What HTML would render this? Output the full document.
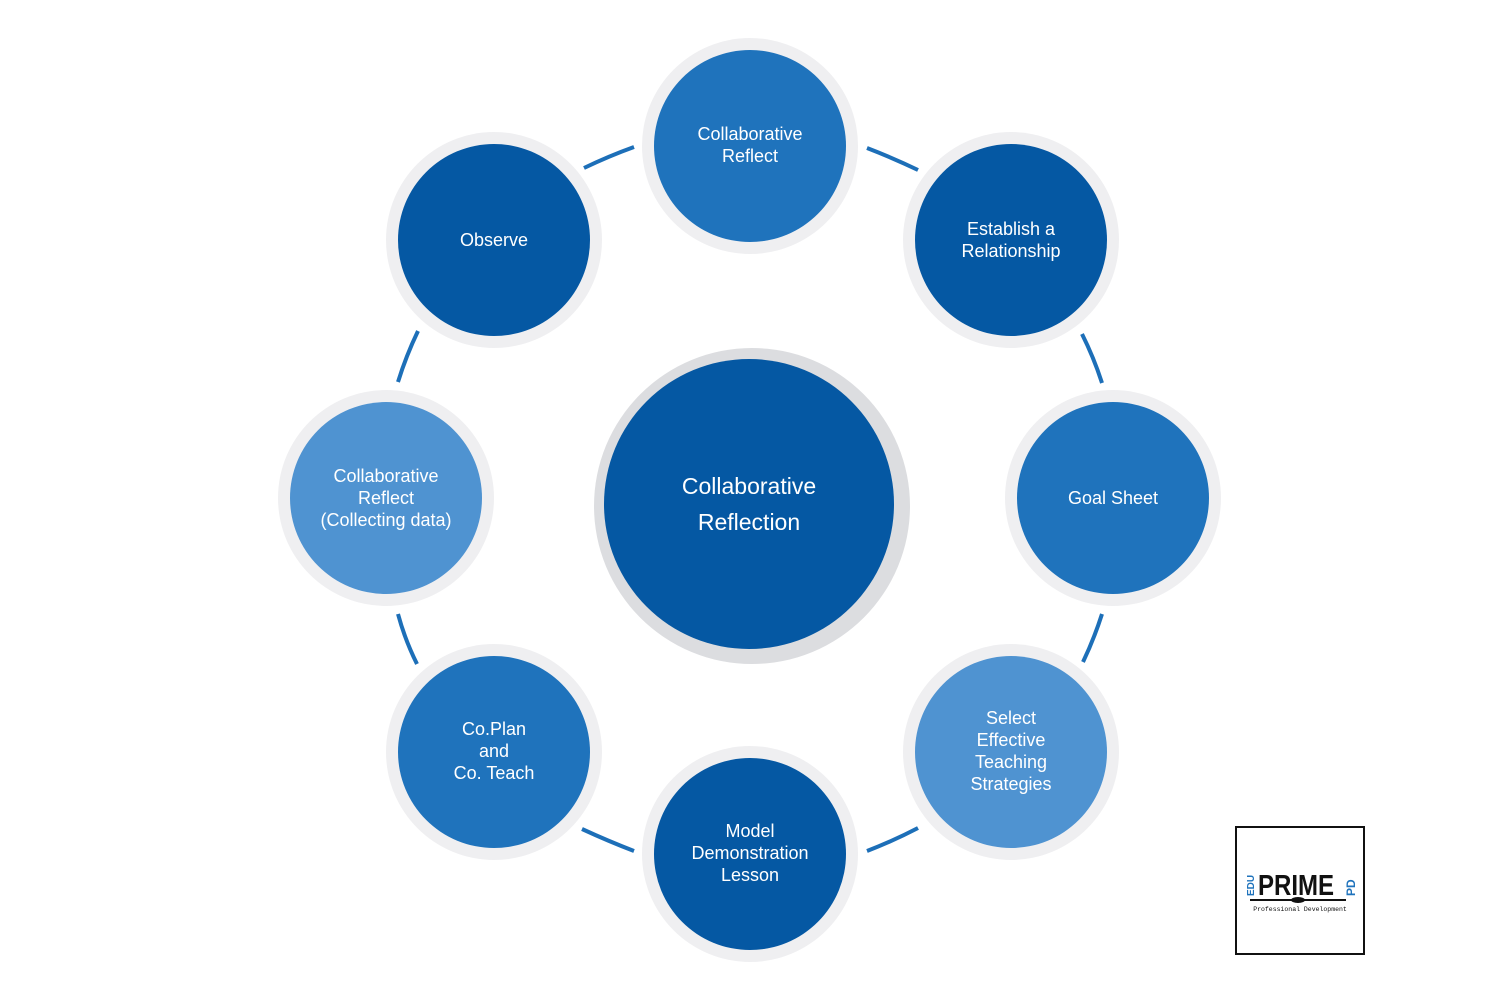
<!DOCTYPE html>
<html><head><style>
body{margin:0;width:1500px;height:1000px;background:#fff;overflow:hidden;font-family:"Liberation Sans",sans-serif}
</style></head><body>
<svg width="1500" height="1000" viewBox="0 0 1500 1000">
<g stroke="#1d6fb8" stroke-width="4" fill="none" stroke-linecap="butt">
<path d="M584 168 Q609 156 634 147"/>
<path d="M867 148 Q893 158 918 170"/>
<path d="M1082 334 Q1094 358 1102 383"/>
<path d="M1102 614 Q1094 639 1083 662"/>
<path d="M918 828 Q893 841 867 851"/>
<path d="M634 851 Q608 841 582 829"/>
<path d="M417 664 Q405 640 398 614"/>
<path d="M398 382 Q406 356 418 331"/>
</g>
<g fill="#efeff1">
<circle cx="752" cy="506" r="158" fill="#dcdde0"/>
<circle cx="750" cy="146" r="108"/><circle cx="494" cy="240" r="108"/><circle cx="1011" cy="240" r="108"/>
<circle cx="1113" cy="498" r="108"/><circle cx="1011" cy="752" r="108"/><circle cx="750" cy="854" r="108"/>
<circle cx="494" cy="752" r="108"/><circle cx="386" cy="498" r="108"/>
</g>
<circle cx="749" cy="504" r="145" fill="#0558a3"/>
<circle cx="750" cy="146" r="96" fill="#1f73bc"/>
<circle cx="494" cy="240" r="96" fill="#0558a3"/>
<circle cx="1011" cy="240" r="96" fill="#0558a3"/>
<circle cx="1113" cy="498" r="96" fill="#1f73bc"/>
<circle cx="1011" cy="752" r="96" fill="#4f93d1"/>
<circle cx="750" cy="854" r="96" fill="#0558a3"/>
<circle cx="494" cy="752" r="96" fill="#1f73bc"/>
<circle cx="386" cy="498" r="96" fill="#4f93d1"/>
<g fill="#fff" font-family="Liberation Sans, sans-serif" font-size="18" text-anchor="middle">
<text x="749" y="494" font-size="23">Collaborative</text>
<text x="749" y="530" font-size="23">Reflection</text>
<text x="750" y="140">Collaborative</text><text x="750" y="162">Reflect</text>
<text x="494" y="246">Observe</text>
<text x="1011" y="235">Establish a</text><text x="1011" y="257">Relationship</text>
<text x="1113" y="504">Goal Sheet</text>
<text x="1011" y="724">Select</text><text x="1011" y="746">Effective</text><text x="1011" y="768">Teaching</text><text x="1011" y="790">Strategies</text>
<text x="750" y="837">Model</text><text x="750" y="859">Demonstration</text><text x="750" y="881">Lesson</text>
<text x="494" y="735">Co.Plan</text><text x="494" y="757">and</text><text x="494" y="779">Co. Teach</text>
<text x="386" y="482">Collaborative</text><text x="386" y="504">Reflect</text><text x="386" y="526">(Collecting data)</text>
</g>
<rect x="1236" y="827" width="128" height="127" fill="#fff" stroke="#111" stroke-width="2"/>
<text transform="translate(1254,896) rotate(-90)" font-size="10" font-weight="bold" fill="#1f73bc">EDU</text>
<text x="1258" y="895" font-size="29" font-weight="bold" fill="#111" textLength="76" lengthAdjust="spacingAndGlyphs">PRIME</text>
<text transform="translate(1355,896) rotate(-90)" font-size="12" font-weight="bold" fill="#1f73bc">PD</text>
<line x1="1250" y1="900" x2="1346" y2="900" stroke="#111" stroke-width="2"/>
<ellipse cx="1298" cy="900" rx="7" ry="3" fill="#111"/>
<text x="1300" y="911" font-size="6.5" font-family="Liberation Mono, monospace" fill="#111" text-anchor="middle">Professional Development</text>
</svg>
</body></html>
